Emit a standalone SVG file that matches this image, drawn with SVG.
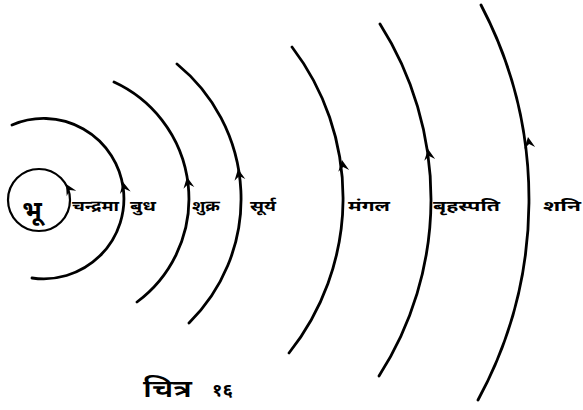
<svg xmlns="http://www.w3.org/2000/svg" width="583" height="410" viewBox="0 0 583 410">
<style>
.orbit{fill:none;stroke:#000;stroke-width:2.8;stroke-linecap:round}
.thin{stroke-width:2.2}
.lbl{font-family:"Noto Sans Devanagari","Noto Sans","Lohit Devanagari",sans-serif;font-weight:bold;fill:#000;font-size:15px}
.ah{fill:#000}
</style>
<defs>
<path id="head" d="M0,0 L5.5,11 L0,7 L-5.5,11 Z"/>
</defs>
<rect width="583" height="410" fill="#fff"/>
<g id="connectors">
<path class="orbit" d="M12,125 A80.2,80.2 0 1 1 32,278"/>
<path class="orbit" d="M114,82 A128.5,128.5 0 0 1 137,302"/>
<path class="orbit" d="M177,64 A174,174 0 0 1 189,323"/>
<path class="orbit" d="M292,47 A249,249 0 0 1 289,353"/>
<path class="orbit" d="M380,24 A326.5,326.5 0 0 1 379,376"/>
<path class="orbit" d="M481,5 A419,419 0 0 1 478,400"/>
<use href="#head" class="ah" transform="translate(66,184) rotate(-30)"/>
<use href="#head" class="ah" transform="translate(123,182) rotate(-12)"/>
<use href="#head" class="ah" transform="translate(187,177) rotate(-10)"/>
<use href="#head" class="ah" transform="translate(238,169) rotate(-10)"/>
<use href="#head" class="ah" transform="translate(342,160) rotate(-9)"/>
<use href="#head" class="ah" transform="translate(428,149) rotate(-9)"/>
<use href="#head" class="ah" transform="translate(528,137) rotate(-9)"/>
</g>
<g id="earth">
<circle class="orbit thin" cx="39" cy="200" r="31"/>
<text class="lbl" x="32" y="219" text-anchor="middle" style="font-size:25px">भू</text>
</g>
<g id="moon"><text class="lbl" x="72" y="211" textLength="47" lengthAdjust="spacingAndGlyphs">चन्द्रमा</text></g>
<g id="mercury"><text class="lbl" x="130" y="211" textLength="26" lengthAdjust="spacingAndGlyphs">बुध</text></g>
<g id="venus"><text class="lbl" x="192" y="211" textLength="28" lengthAdjust="spacingAndGlyphs">शुक्र</text></g>
<g id="sun"><text class="lbl" x="250" y="211" textLength="26" lengthAdjust="spacingAndGlyphs">सूर्य</text></g>
<g id="mars"><text class="lbl" x="348" y="211" textLength="42" lengthAdjust="spacingAndGlyphs">मंगल</text></g>
<g id="jupiter"><text class="lbl" x="433" y="211" textLength="67" lengthAdjust="spacingAndGlyphs">बृहस्पति</text></g>
<g id="saturn"><text class="lbl" x="543" y="211" textLength="38" lengthAdjust="spacingAndGlyphs">शनि</text></g>
<g id="caption"><text class="lbl" x="143" y="397" textLength="49" lengthAdjust="spacingAndGlyphs" style="font-size:24px;font-weight:600">चित्र</text><text class="lbl" x="212" y="396" textLength="21" lengthAdjust="spacingAndGlyphs" style="font-size:17px">१६</text></g>
</svg>
